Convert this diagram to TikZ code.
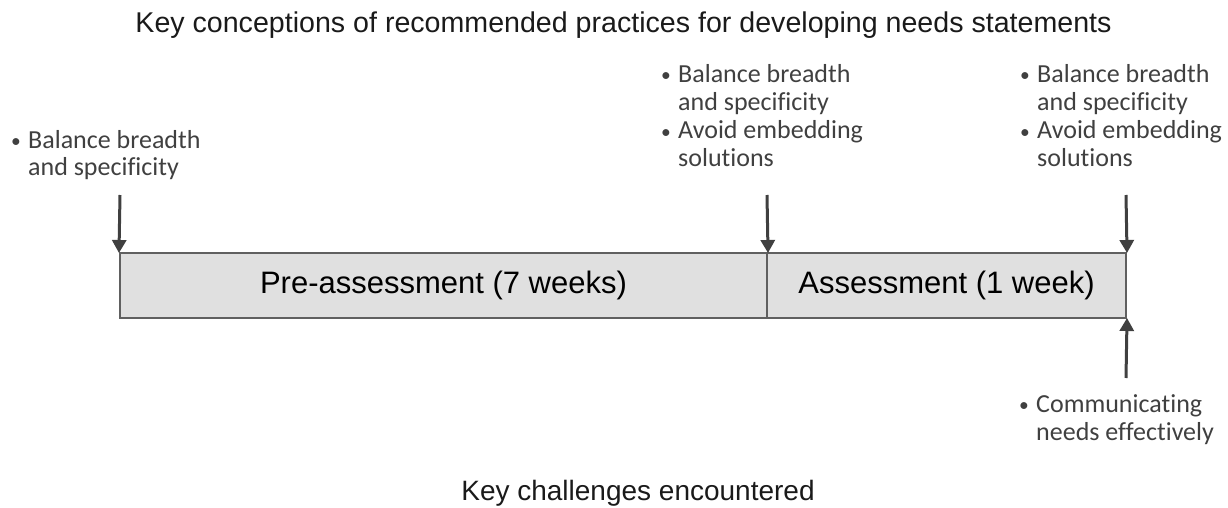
\documentclass[tikz,border=0pt]{standalone}
\usepackage{fontspec}
\usepackage{graphicx}
\setmainfont{Liberation Sans}
\newfontfamily\notefont[Ligatures=NoCommon]{Carlito}
\usetikzlibrary{arrows.meta}
\definecolor{boxfill}{HTML}{E0E0E0}
\definecolor{boxline}{HTML}{606060}
\definecolor{arrowcol}{HTML}{404040}
\definecolor{notecol}{HTML}{404040}
\definecolor{headcol}{HTML}{1A1A1A}
\tikzset{
  phase/.style={draw=boxline, fill=boxfill, line width=2pt, minimum height=65pt,
    inner sep=0pt, font=\fontsize{31}{36}\selectfont, text=black},
  marker/.style={draw=arrowcol, line width=3pt,
    -{Triangle[width=14pt,length=13pt]}, shorten >=-1pt},
  note/.style={anchor=base west, inner sep=0pt, text=notecol,
    font=\notefont\fontsize{26}{28}\selectfont},
  heading/.style={anchor=base, inner sep=0pt, text=headcol}
}
\newcommand{\notedot}{\raisebox{1pt}{\scalebox{0.75}{\textbullet}}}
\newcommand{\notelist}[1]{\begin{tabular}[t]{@{}p{17pt}@{}l@{}}#1\end{tabular}}
\begin{document}
\begin{tikzpicture}[x=1pt,y=-1pt]
  \useasboundingbox (0,0) rectangle (1228,508);
  % headings
  \node[heading, font=\fontsize{28.6}{32}\selectfont] (top) at (623.5,33)
    {Key conceptions of recommended practices for developing needs statements};
  \node[heading, font=\fontsize{28}{32}\selectfont] (bottom) at (638,500)
    {Key challenges encountered};
  % timeline phases
  \node[phase, minimum width=647pt] (pre) at (443.5,285.5) {Pre-assessment (7 weeks)};
  \node[phase, minimum width=359pt] (assess) at (946.5,285.5) {Assessment (1 week)};
  % notes
  \node[note] (n1) at (11,148) {\notelist{\notedot & Balance breadth\\ & and specificity}};
  \node[note] (n2) at (661,83) {\notelist{\notedot & Balance breadth\\ & and specificity\\ \notedot & Avoid embedding\\ & solutions}};
  \node[note] (n3) at (1020,83) {\notelist{\notedot & Balance breadth\\ & and specificity\\ \notedot & Avoid embedding\\ & solutions}};
  \node[note] (n4) at (1019,412) {\notelist{\notedot & Communicating\\ & needs effectively}};
  % arrow tails
  \coordinate (a1) at (120,195);
  \coordinate (a2) at (767,195);
  \coordinate (a3) at (1126,195);
  \coordinate (a4) at (1126,378);
  \draw[marker] (a1) -- (pre.north west);
  \draw[marker] (a2) -- (pre.north east);
  \draw[marker] (a3) -- (assess.north east);
  \draw[marker] (a4) -- (assess.south east);
\end{tikzpicture}
\end{document}
